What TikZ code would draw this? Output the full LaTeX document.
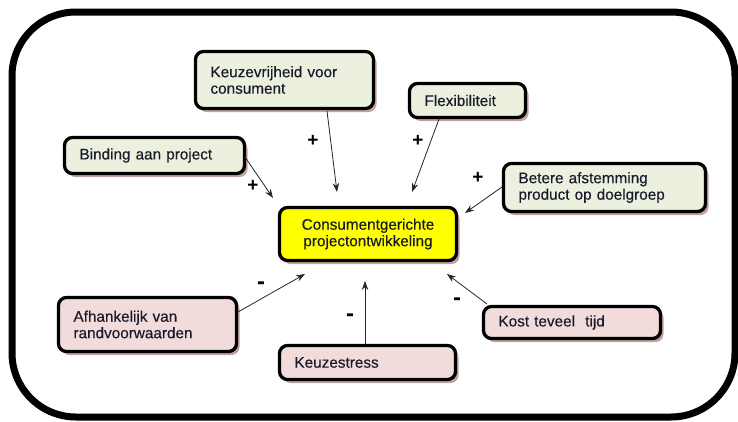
\documentclass[tikz,border=0pt]{standalone}
\usepackage{fontspec}
\setmainfont{Liberation Sans}
\newfontfamily\boxfont{Liberation Sans}[FakeBold=0.3]
\usetikzlibrary{shadows,arrows.meta}
\definecolor{gfill}{HTML}{EBF1DE}
\definecolor{pfill}{HTML}{F2DCDB}
\definecolor{yfill}{HTML}{FFFF00}
\definecolor{shadowc}{HTML}{B08888}
\definecolor{txt}{HTML}{1A1A2A}
\tikzset{
  box/.style={draw=black, line width=3.3pt, rounded corners=8pt, inner xsep=15pt, inner ysep=0pt,
    align=left, text=txt, font=\boxfont\fontsize{15.3}{16.5}\selectfont,
    drop shadow={shadow xshift=3pt, shadow yshift=-3.5pt, fill=shadowc, opacity=0.8}},
  gbox/.style={box, fill=gfill},
  pbox/.style={box, fill=pfill},
  cbox/.style={box, fill=yfill, align=center},
  arr/.style={draw=black!85, line width=0.8pt, -{Stealth[length=9pt,width=6.5pt]}},
  sign/.style={font=\fontsize{19}{19}\bfseries\selectfont, inner sep=0pt},
  minus/.style={font=\fontsize{24}{24}\bfseries\selectfont, inner sep=0pt}
}
\begin{document}
\begin{tikzpicture}[x=1pt,y=-1pt]
\useasboundingbox (0,0) rectangle (738,421);
\draw[line width=7pt, rounded corners=64pt] (12,12) rectangle (735,417);

\node[gbox, minimum width=178pt, minimum height=57pt, text width=148pt] (kz) at (284.5,80) {Keuzevrijheid voor\\consument};
\node[gbox, minimum width=116pt, minimum height=34pt, text width=86pt] (fl) at (467.5,100.5) {Flexibiliteit};
\node[gbox, minimum width=180pt, minimum height=36pt, text width=150pt] (bi) at (154.5,155.5) {Binding aan project};
\node[gbox, minimum width=202pt, minimum height=48pt, text width=172pt] (be) at (604.5,187.5) {Betere afstemming\\product op doelgroep};
\node[cbox, minimum width=177pt, minimum height=53pt, text width=147pt] (cc) at (368,234) {Consumentgerichte\\projectontwikkeling};
\node[pbox, minimum width=178pt, minimum height=54pt, text width=148pt] (af) at (147.5,324.5) {Afhankelijk van\\randvoorwaarden};
\node[pbox, minimum width=176pt, minimum height=34pt, text width=146pt] (ks) at (367.5,362.5) {Keuzestress};
\node[pbox, minimum width=177pt, minimum height=32pt, text width=147pt] (ko) at (572,322.5) {Kost teveel\ \ tijd};

\coordinate (s1) at (327,111); \coordinate (t1) at (337,192);
\coordinate (s2) at (439,119); \coordinate (t2) at (412,192);
\coordinate (s3) at (245,157); \coordinate (t3) at (273,198);
\coordinate (s4) at (502,187); \coordinate (t4) at (465,213);
\coordinate (s5) at (238,312); \coordinate (t5) at (305,274);
\coordinate (s6) at (365,344); \coordinate (t6) at (365,281);
\coordinate (s7) at (487,304); \coordinate (t7) at (447,274);

\draw[arr] (s1) -- (t1);
\draw[arr] (s2) -- (t2);
\draw[arr] (s3) -- (t3);
\draw[arr] (s4) -- (t4);
\draw[arr] (s5) -- (t5);
\draw[arr] (s6) -- (t6);
\draw[arr] (s7) -- (t7);

\node[sign] (p1) at (313,141) {+};
\node[sign] (p2) at (418,141) {+};
\node[sign] (p3) at (253,186) {+};
\node[sign] (p4) at (478,178) {+};
\node[minus] (m1) at (261,286) {-};
\node[minus] (m2) at (350,318) {-};
\node[minus] (m3) at (457,302) {-};
\end{tikzpicture}
\end{document}
